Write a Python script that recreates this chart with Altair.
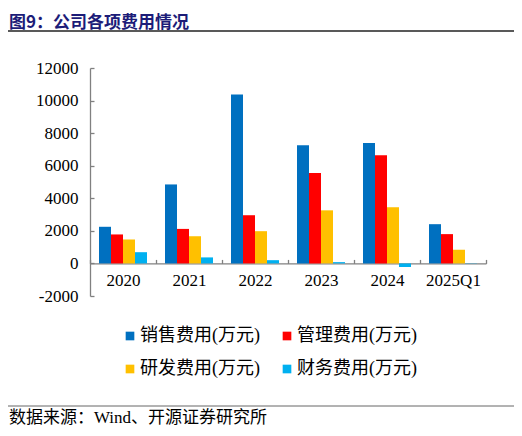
import altair as alt
import pandas as pd

years = ["2020", "2021", "2022", "2023", "2024", "2025Q1"]
series = ["销售费用(万元)", "管理费用(万元)", "研发费用(万元)", "财务费用(万元)"]
sales = [2250, 4850, 10380, 7260, 7400, 2410]
admin = [1780, 2120, 2960, 5550, 6650, 1800]
rnd = [1470, 1670, 1980, 3260, 3450, 840]
fin = [690, 370, 200, 80, -220, 15]
colors = ["#0070C0", "#FF0000", "#FFC000", "#00B0F0"]
yticks = [-2000, 0, 2000, 4000, 6000, 8000, 10000, 12000]
title_text = "图9：公司各项费用情况"
source_text = "数据来源：Wind、开源证券研究所"

rows = []
for s, vals in zip(series, [sales, admin, rnd, fin]):
    for yr, v in zip(years, vals):
        rows.append({"year": yr, "series": s, "value": v})
df = pd.DataFrame(rows)

W, H = 396, 228
zero_off = -H * 2000 / 14000
SERIF = "Liberation Serif, Noto Sans CJK SC"

bars = alt.Chart(df).mark_bar().encode(
    x=alt.X("year:N", sort=years,
            scale=alt.Scale(paddingInner=0, paddingOuter=0),
            axis=alt.Axis(title=None, labelAngle=0, tickBand="extent",
                          offset=zero_off, tickSize={"expr": "-4"},
                          labelPadding=13, labelFontSize=17, labelFont=SERIF,
                          labelColor="#000000", domainColor="#808080",
                          tickColor="#808080", domainWidth=1.3, tickWidth=1.3)),
    xOffset=alt.XOffset("series:N", sort=series,
                        scale=alt.Scale(paddingInner=0, paddingOuter=0.75)),
    y=alt.Y("value:Q", scale=alt.Scale(domain=[-2000, 12000], nice=False, zero=False),
            axis=alt.Axis(title=None, values=yticks, grid=False,
                          labelExpr="'' + datum.value",
                          tickSize={"expr": "-4"}, labelPadding=16,
                          labelFontSize=17, labelFont=SERIF, labelColor="#000000",
                          domainColor="#808080", tickColor="#808080",
                          domainWidth=1.3, tickWidth=1.3)),
    color=alt.Color("series:N", sort=series,
                    scale=alt.Scale(domain=series, range=colors),
                    legend=alt.Legend(orient="none", legendX=31, legendY=259,
                                      columns=2, direction="horizontal",
                                      title=None, symbolType="square",
                                      symbolSize=75, symbolStrokeWidth=0,
                                      labelFont=SERIF, labelFontSize=18,
                                      labelColor="#000000", labelOffset=1,
                                      columnPadding=18, rowPadding=15,
                                      padding=0, labelLimit=0)),
)

one = pd.DataFrame({"a": [0]})

title_mark = alt.Chart(one).mark_text(
    align="left", baseline="middle", font="Noto Sans CJK SC", fontSize=17,
    fontWeight="bold", color="#1C1C78"
).encode(x=alt.value(-81), y=alt.value(-45), text=alt.value(title_text))

title_rule = alt.Chart(one).mark_rule(color="#222222", strokeWidth=1.5).encode(
    x=alt.value(-82), x2=alt.value(424), y=alt.value(-37))

source_rule = alt.Chart(one).mark_rule(color="#666666", strokeWidth=1).encode(
    x=alt.value(-82), x2=alt.value(424), y=alt.value(338))

source_mark = alt.Chart(one).mark_text(
    align="left", baseline="middle", font=SERIF, fontSize=17, color="#000000"
).encode(x=alt.value(-81), y=alt.value(350), text=alt.value(source_text))

chart = alt.layer(bars, title_mark, title_rule, source_rule, source_mark).properties(
    width=W, height=H,
    autosize=alt.AutoSizeParams(type="none"),
    padding={"left": 82, "top": 60, "right": 28, "bottom": 132},
    background="white",
).configure_view(stroke=None)

chart.save("out.html", embed_options={"renderer": "svg", "actions": False})
